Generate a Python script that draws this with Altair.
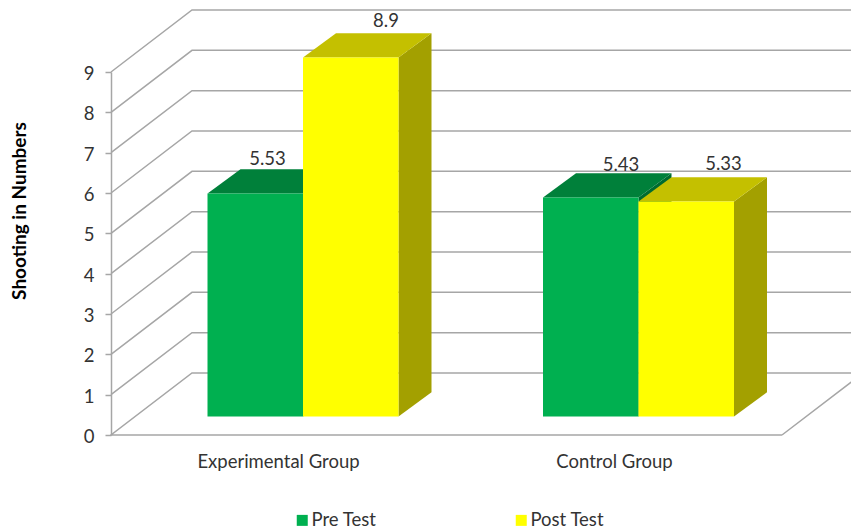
import altair as alt
import pandas as pd

# Chart values
groups = ["Experimental Group", "Control Group"]
series = ["Pre Test", "Post Test"]
pre_values = [5.53, 5.43]
post_values = [8.9, 5.33]
label_texts = {5.53: "5.53", 8.9: "8.9", 5.43: "5.43", 5.33: "5.33"}
y_ticks = list(range(10))

# Palette per series: front, top and side faces
front_colors = ["#00B050", "#FFFF00"]
top_colors = ["#00803A", "#C4C000"]
side_colors = ["#006B30", "#A3A000"]
grid_color = "#A6A6A6"
text_color = "#333333"
font = "Lato"

# Layout of the pseudo-3D box; x units are pixels, y units are axis values
PLOT_W, PLOT_H = 740, 363
UNIT = PLOT_H / 9
WALL_DX, WALL_DY = 81, 62 / UNIT
FLOOR_W = 671
BAR_W = 95.5
BAR_DX, BAR_DY = 33, 24.2 / UNIT
BAR_BASE = 18.5 / UNIT
group_label_x = [167, 503]
bar_left = {"Pre Test": [96.5, 432], "Post Test": [192, 527.5]}
label_dx = {"Pre Test": [60, 78], "Post Test": [83, 85]}
label_lift = {"Pre Test": [34, 32], "Post Test": [37, 38]}

x_scale = alt.Scale(domain=[0, PLOT_W], range=[0, PLOT_W], nice=False, zero=False)
y_scale = alt.Scale(domain=[0, 9], nice=False, zero=False)

x_axis = alt.Axis(
    values=group_label_x,
    labelExpr=f"datum.value < 300 ? '{groups[0]}' : '{groups[1]}'",
    domain=False,
    ticks=False,
    grid=False,
    title=None,
    labelFont=font,
    labelFontSize=18.5,
    labelColor=text_color,
    labelPadding=17,
    labelAngle=0,
)
y_axis = alt.Axis(
    values=y_ticks,
    format="d",
    grid=False,
    domainColor=grid_color,
    domainWidth=1.5,
    tickColor=grid_color,
    tickWidth=1.5,
    tickSize=6,
    labelFont=font,
    labelFontSize=18.5,
    labelColor=text_color,
    labelPadding=11,
    labelOffset=1.5,
    title="Shooting in Numbers",
    titleFont=font,
    titleFontSize=19,
    titleFontWeight="bold",
    titleColor="#000000",
    titleAngle=-90,
    titleX=-92,
    titleY=138.5,
    titleAlign="center",
    titleBaseline="middle",
)
x_enc = alt.X("x:Q", scale=x_scale, axis=x_axis)
y_enc = alt.Y("y:Q", scale=y_scale, axis=y_axis)

# Wall lines: a diagonal on the side wall, then a run along the back wall
grid_rows = []
for v in y_ticks[1:]:
    grid_rows += [
        {"tick": v, "o": 0, "x": 0, "y": v},
        {"tick": v, "o": 1, "x": WALL_DX, "y": v + WALL_DY},
        {"tick": v, "o": 2, "x": WALL_DX + FLOOR_W, "y": v + WALL_DY},
    ]
# The floor outline closes at its front edge
for o, (px, py) in enumerate(
    [(FLOOR_W, 0), (0, 0), (WALL_DX, WALL_DY), (WALL_DX + FLOOR_W, WALL_DY), (FLOOR_W, 0)]
):
    grid_rows.append({"tick": 0, "o": o, "x": px, "y": py})

grid = alt.Chart(pd.DataFrame(grid_rows)).mark_line(
    color=grid_color, strokeWidth=1.5, clip=False
).encode(x=x_enc, y=y_enc, detail="tick:N", order="o:Q")

layers = [grid]
label_rows = []

for i, (name, values) in enumerate(zip(series, [pre_values, post_values])):
    side_rows, top_rows, front_rows = [], [], []
    for j, value in enumerate(values):
        left = bar_left[name][j]
        right = left + BAR_W
        top = BAR_BASE + value
        front_rows.append({"series": name, "x": left, "x2": right, "y": BAR_BASE, "y2": top})
        for t in (0, 1):
            side_rows.append({
                "bar": j,
                "x": right + t * BAR_DX,
                "y": top + t * BAR_DY,
                "y2": BAR_BASE + t * BAR_DY,
            })
            top_rows.append({
                "bar": j,
                "y": top + t * BAR_DY,
                "x": left + t * BAR_DX,
                "x2": right + t * BAR_DX,
            })
        label_rows.append({
            "x": left + label_dx[name][j],
            "y": top + label_lift[name][j] / UNIT,
            "label": label_texts[value],
        })

    side = alt.Chart(pd.DataFrame(side_rows)).mark_area(
        orient="vertical", color=side_colors[i], interpolate="linear"
    ).encode(x=x_enc, y=y_enc, y2="y2:Q", detail="bar:N")

    top_face = alt.Chart(pd.DataFrame(top_rows)).mark_area(
        orient="horizontal", color=top_colors[i], interpolate="linear"
    ).encode(x=x_enc, x2="x2:Q", y=y_enc, detail="bar:N")

    front = alt.Chart(pd.DataFrame(front_rows)).mark_rect().encode(
        x=x_enc,
        x2="x2:Q",
        y=y_enc,
        y2="y2:Q",
        color=alt.Color(
            "series:N",
            scale=alt.Scale(domain=series, range=front_colors),
            legend=alt.Legend(
                title=None,
                orient="none",
                direction="horizontal",
                columns=2,
                columnPadding=135,
                legendX=182,
                legendY=439,
                symbolType="square",
                symbolSize=121,
                symbolStrokeWidth=0,
                labelFont=font,
                labelFontSize=18.5,
                labelColor=text_color,
                labelOffset=0,
            ),
        ),
    )
    layers += [side, top_face, front]

value_labels = alt.Chart(pd.DataFrame(label_rows)).mark_text(
    font=font, fontSize=18.5, color=text_color, baseline="middle", align="center"
).encode(x=x_enc, y=y_enc, text="label:N")
layers.append(value_labels)

chart = (
    alt.layer(*layers)
    .properties(
        width=PLOT_W,
        height=PLOT_H,
        padding={"left": 111, "top": 72, "right": 0, "bottom": 97},
        autosize=alt.AutoSizeParams(type="none"),
        background="#FFFFFF",
    )
    .configure_view(stroke=None)
)

chart.save("out.html", embed_options={"renderer": "svg", "actions": False})
